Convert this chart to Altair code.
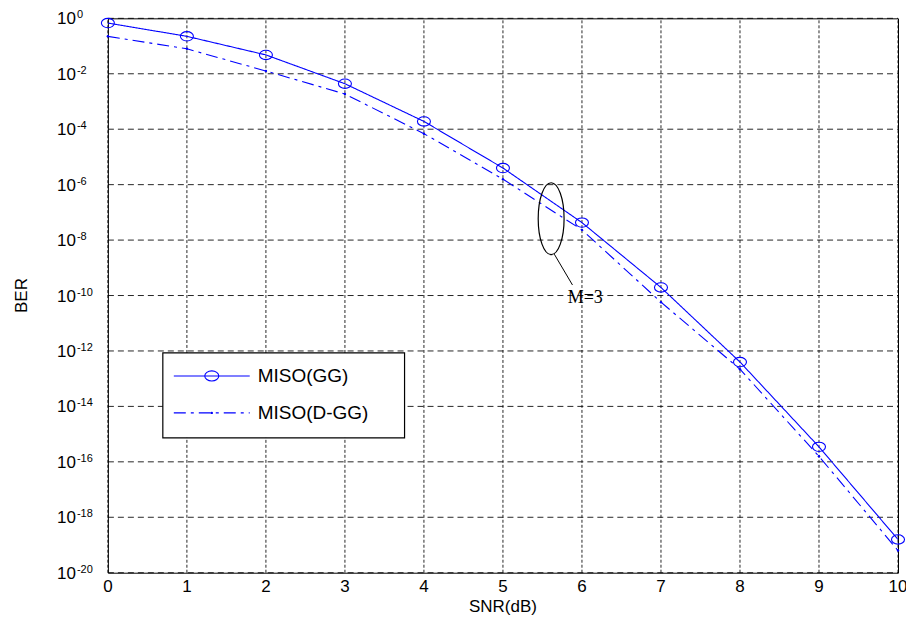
import altair as alt
import pandas as pd

# ---------------- data ----------------
snr = [0, 1, 2, 3, 4, 5, 6, 7, 8, 9, 10]
ber_gg = [0.676, 0.224, 0.0479, 4.37e-3, 1.91e-4, 3.98e-6, 4.27e-8, 1.95e-10, 3.98e-13, 3.47e-16, 1.58e-19]
ber_dgg = [0.224, 0.0794, 0.0126, 1.86e-3, 6.9e-5, 1.58e-6, 2.34e-8, 5.75e-11, 2.19e-13, 1.58e-16, 6.3e-20]
series_names = ["MISO(GG)", "MISO(D-GG)"]
x_ticks = [0, 1, 2, 3, 4, 5, 6, 7, 8, 9, 10]
y_exponents = [0, -2, -4, -6, -8, -10, -12, -14, -16, -18, -20]
x_title = "SNR(dB)"
y_title = "BER"
annot_label = "M=3"
# annotation anchor points (data coordinates)
ellipse_x, ellipse_y = [5.61], [5.9e-8]
pointer_x, pointer_y, pointer_x2, pointer_y2 = [5.65], [3.1e-9], [5.88], [2.4e-10]
label_x, label_y = [5.82], [7.9e-11]

BLUE = "#0000ff"
FONT = "Liberation Sans"
X_MIN, X_MAX = x_ticks[0], x_ticks[-1]
Y_MIN, Y_MAX = 10.0 ** y_exponents[-1], 10.0 ** y_exponents[0]

df = pd.DataFrame({
    "snr": snr + snr,
    "ber": ber_gg + ber_dgg,
    "series": [series_names[0]] * len(snr) + [series_names[1]] * len(snr),
})
df_gg = df[df.series == series_names[0]]
df_dgg = df[df.series == series_names[1]]

xs = alt.Scale(domain=[X_MIN, X_MAX], nice=False, zero=False)
ys = alt.Scale(type="log", domain=[Y_MIN, Y_MAX], nice=False)


def xq(field):
    return alt.X(field, type="quantitative", scale=xs, axis=None)


def yq(field):
    return alt.Y(field, type="quantitative", scale=ys, axis=None)


# ---------- grid (drawn from the tick arrays) ----------
df_xt = pd.DataFrame({"snr": x_ticks, "lab": [str(v) for v in x_ticks]})
df_xt["lo"] = Y_MIN
df_xt["hi"] = Y_MAX
vgrid = alt.Chart(df_xt).mark_rule(color="#000000", strokeWidth=1, strokeDash=[3, 2], opacity=0.85).encode(
    x=xq("snr"), y=yq("lo"), y2="hi:Q")

df_yt = pd.DataFrame({"ber": [10.0 ** e for e in y_exponents], "exp": [str(e) for e in y_exponents]})
df_yt["base"] = "10"
df_yt["left"] = X_MIN
df_yt["right"] = X_MAX
hgrid = alt.Chart(df_yt).mark_rule(color="#000000", strokeWidth=1, strokeDash=[6, 4], opacity=0.85).encode(
    x=xq("left"), x2="right:Q", y=yq("ber"))

# ---------- tick labels and titles ----------
xlab = alt.Chart(df_xt).mark_text(align="center", baseline="top", dy=6, fontSize=17, font=FONT,
                                  color="#000000").encode(x=xq("snr"), y=yq("lo"), text="lab:N")
ylab_base = alt.Chart(df_yt).mark_text(align="right", baseline="middle", dx=-32, dy=1,
                                       fontSize=17, font=FONT, color="#000000").encode(
    x=xq("left"), y=yq("ber"), text="base:N")
ylab_exp = alt.Chart(df_yt).mark_text(align="left", baseline="alphabetic", dx=-31, dy=0,
                                      fontSize=11, font=FONT, color="#000000").encode(
    x=xq("left"), y=yq("ber"), text="exp:N")

df_xtitle = pd.DataFrame({"snr": [(X_MIN + X_MAX) / 2], "ber": [Y_MIN], "t": [x_title]})
xtitle = alt.Chart(df_xtitle).mark_text(align="center", baseline="top", dy=26, fontSize=17,
                                        font=FONT, color="#000000").encode(
    x=xq("snr"), y=yq("ber"), text="t:N")
df_ytitle = pd.DataFrame({"snr": [X_MIN], "ber": [(Y_MIN * Y_MAX) ** 0.5], "t": [y_title]})
ytitle = alt.Chart(df_ytitle).mark_text(align="center", baseline="middle", angle=270, dy=-86,
                                        fontSize=17, font=FONT, color="#000000").encode(
    x=xq("snr"), y=yq("ber"), text="t:N")

# ---------- series ----------
lines = alt.Chart(df).mark_line(strokeWidth=1.1, color=BLUE).encode(
    x=xq("snr"), y=yq("ber"),
    strokeDash=alt.StrokeDash("series:N", scale=alt.Scale(domain=series_names, range=[[1, 0], [12, 5, 3, 5]]), legend=None),
    detail="series:N",
)
ellipse_marker = "M 1 0 A 1 0.72 0 1 1 -1 0 A 1 0.72 0 1 1 1 0 Z"
markers_gg = alt.Chart(df_gg).mark_point(shape=ellipse_marker, size=169, filled=False, color=BLUE,
                                         strokeWidth=1.1, opacity=1).encode(x=xq("snr"), y=yq("ber"))
markers_dgg = alt.Chart(df_dgg).mark_circle(size=6, color=BLUE, opacity=1).encode(x=xq("snr"), y=yq("ber"))

# ---------- annotation ----------
ellipse_path = "M 0 -1 A 0.36 1 0 1 1 0 1 A 0.36 1 0 1 1 0 -1 Z"
df_ell = pd.DataFrame({"snr": ellipse_x, "ber": ellipse_y})
ellipse = alt.Chart(df_ell).mark_point(shape=ellipse_path, size=5184, filled=False,
                                       color="#000000", strokeWidth=1.2, opacity=1).encode(
    x=xq("snr"), y=yq("ber"))
df_ptr = pd.DataFrame({"snr": pointer_x, "ber": pointer_y, "snr2": pointer_x2, "ber2": pointer_y2})
pointer = alt.Chart(df_ptr).mark_rule(color="#000000", strokeWidth=1).encode(
    x=xq("snr"), y=yq("ber"), x2="snr2:Q", y2="ber2:Q")
df_lab = pd.DataFrame({"snr": label_x, "ber": label_y, "t": [annot_label]})
label = alt.Chart(df_lab).mark_text(align="left", baseline="middle", fontSize=18,
                                    font="Liberation Serif", color="#000000").encode(
    x=xq("snr"), y=yq("ber"), text="t:N")

# ---------- legend box (pixel placement inside the plot area) ----------
one = pd.DataFrame({"k": [0]})
leg_box = alt.Chart(one).mark_rect(fill="#ffffff", stroke="#000000", strokeWidth=1.2).encode(
    x=alt.value(55), x2=alt.value(297), y=alt.value(335), y2=alt.value(420))
leg_line1 = alt.Chart(one).mark_rule(color=BLUE, strokeWidth=1.1).encode(
    x=alt.value(66), x2=alt.value(142), y=alt.value(358))
leg_mark1 = alt.Chart(one).mark_point(shape=ellipse_marker, size=196, filled=False, color=BLUE,
                                      strokeWidth=1.1, opacity=1).encode(x=alt.value(104), y=alt.value(358))
leg_line2 = alt.Chart(one).mark_rule(color=BLUE, strokeWidth=1.1, strokeDash=[12, 5, 3, 5]).encode(
    x=alt.value(66), x2=alt.value(142), y=alt.value(395))
leg_mark2 = alt.Chart(one).mark_circle(size=6, color=BLUE, opacity=1).encode(
    x=alt.value(104), y=alt.value(395))
leg_text1 = alt.Chart(one).mark_text(align="left", baseline="middle", fontSize=19, font=FONT,
                                     color="#000000").encode(
    x=alt.value(150), y=alt.value(358), text=alt.value(series_names[0]))
leg_text2 = alt.Chart(one).mark_text(align="left", baseline="middle", fontSize=19, font=FONT,
                                     color="#000000").encode(
    x=alt.value(150), y=alt.value(395), text=alt.value(series_names[1]))

chart = alt.layer(
    vgrid, hgrid, lines, markers_gg, markers_dgg,
    xlab, ylab_base, ylab_exp, xtitle, ytitle,
    ellipse, pointer, label,
    leg_box, leg_line1, leg_mark1, leg_line2, leg_mark2, leg_text1, leg_text2,
).properties(
    width=791, height=555, autosize="none",
    padding={"left": 100, "top": 10, "right": 8, "bottom": 50},
    background="#ffffff",
).configure_view(stroke="#000000", strokeWidth=1)

chart.save("out.html", embed_options={"renderer": "svg", "actions": False})
